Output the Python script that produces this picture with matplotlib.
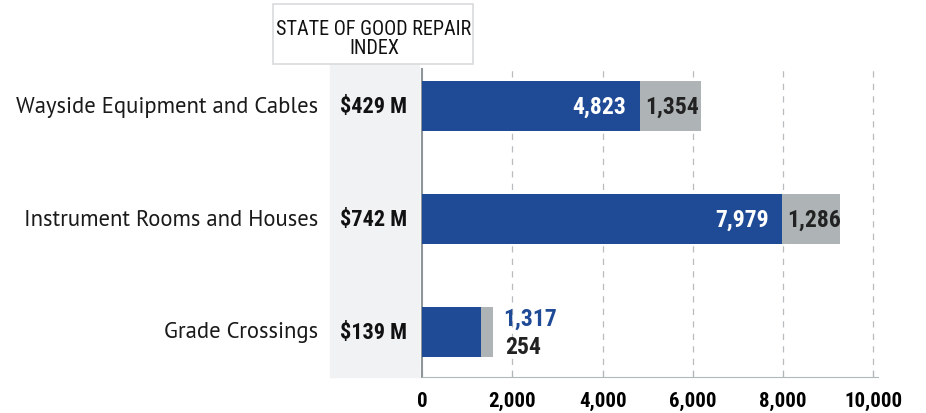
import matplotlib.pyplot as plt
from matplotlib.patches import Rectangle

categories = ['Wayside Equipment and Cables', 'Instrument Rooms and Houses', 'Grade Crossings']
costs = ['$429 M', '$742 M', '$139 M']
good = [4823, 7979, 1317]
other = [1354, 1286, 254]
ticks = [0, 2000, 4000, 6000, 8000, 10000]

blue = '#1f4a96'
grey = '#aeb4b6'
narrow = ['Roboto Condensed', 'DejaVu Sans']
plain = ['PT Sans', 'DejaVu Sans']

fig = plt.figure(figsize=(9.26, 4.14), dpi=100)
W, H = 926, 414

# grey index panel and header box
fig.patches.append(Rectangle((330 / W, 1 - 378 / H), 89 / W, 315 / H,
                             transform=fig.transFigure, color='#f1f2f4', zorder=-2))
fig.patches.append(Rectangle((273 / W, 1 - 65 / H), 200 / W, 60 / H,
                             transform=fig.transFigure, facecolor='white',
                             edgecolor='#d8dadc', lw=1.2, zorder=1))
fig.text(374 / W, 1 - 39 / H, 'STATE OF GOOD REPAIR\nINDEX', ha='center', va='center',
         fontsize=14.5, family=narrow, color='#111111', linespacing=1.02)

ax = fig.add_axes([422 / W, 36 / H, 456 / W, 308 / H])
ax.set_facecolor('none')
ypos = [2, 1, 0]
ax.barh(ypos, good, height=0.44, color=blue, zorder=3)
ax.barh(ypos, other, left=good, height=0.44, color=grey, zorder=3)

ax.set_xlim(0, 10100)
ax.set_ylim(-0.40, 2.33)
ax.set_xticks(ticks)
ax.set_xticklabels([f'{t:,}' for t in ticks], family=narrow, fontsize=15, fontweight='bold')
ax.set_yticks([])
ax.tick_params(axis='x', direction='in', length=5, color='#b0b8bc', pad=10)
for t in ticks[1:]:
    ax.axvline(t, color='#b8bcbf', lw=0.9, ls=(0, (5, 5)), zorder=1)
for s in ['top', 'right']:
    ax.spines[s].set_visible(False)
ax.spines['bottom'].set_color('#b0b8bc')
ax.spines['left'].set_color('#8e969a')
ax.spines['left'].set_linewidth(1.5)

for y, cat, cost, g, o in zip(ypos, categories, costs, good, other):
    ax.text(-0.228, y, cat, transform=ax.get_yaxis_transform(), ha='right', va='center',
            fontsize=16.3, family=plain, color='#1a1a1a')
    ax.text(-0.106, y, cost, transform=ax.get_yaxis_transform(), ha='center', va='center',
            fontsize=16, family=narrow, fontweight='bold', color='#111111')
    if g > 3000:
        ax.text(g - 300, y, f'{g:,}', ha='right', va='center', fontsize=17, family=narrow,
                fontweight='bold', color='white', zorder=4)
        ax.text(g + 110, y, f'{o:,}', ha='left', va='center', fontsize=17, family=narrow,
                fontweight='bold', color='#222222', zorder=4)
    else:
        ax.text(g + o + 225, y + 0.12, f'{g:,}', ha='left', va='center', fontsize=17,
                family=narrow, fontweight='bold', color=blue, zorder=4)
        ax.text(g + o + 260, y - 0.13, f'{o:,}', ha='left', va='center', fontsize=17,
                family=narrow, fontweight='bold', color='#222222', zorder=4)

fig.savefig('out.png', dpi=100)
